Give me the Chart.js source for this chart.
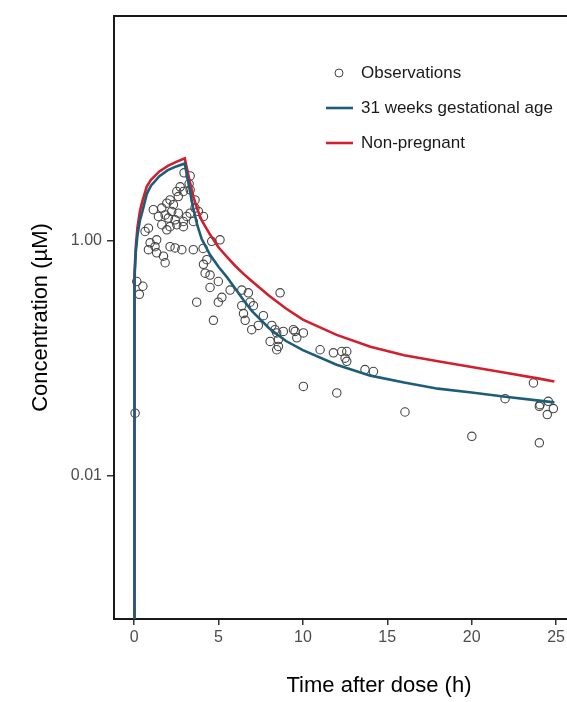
<!DOCTYPE html>
<html>
<head>
<meta charset="utf-8">
<script src="https://cdn.jsdelivr.net/npm/chart.js@4"></script>
<style>
  html, body { margin: 0; padding: 0; background: #fff; overflow: hidden; }
  #wrap { width: 660px; height: 702px; }
</style>
</head>
<body>
<div id="wrap"><canvas id="pkChart" width="660" height="702"></canvas></div>
<script>
// -------------------- Data --------------------
const curveTime = [0, 0.005, 0.02, 0.05, 0.1, 0.2, 0.35, 0.5, 0.75, 1, 1.5, 2, 2.5, 3,
  3.25, 3.5, 3.75, 4, 4.5, 5, 5.5, 6, 6.5, 7, 8, 9, 10, 12, 14, 16, 18, 20, 22, 24, 24.9];

// first value is the (effectively zero) pre-dose concentration, below the axis floor
const gest31Conc = [1e-6, 0.05, 0.2, 0.48, 0.8, 1.12, 1.5, 1.8, 2.5, 2.95, 3.55, 4.0, 4.3, 4.55,
  2.95, 1.9, 1.35, 1.04, 0.76, 0.6, 0.49, 0.39, 0.31, 0.25, 0.18, 0.14, 0.117, 0.088, 0.071,
  0.062, 0.055, 0.051, 0.047, 0.0435, 0.042];

const nonPregConc = [1e-6, 0.055, 0.22, 0.52, 0.88, 1.3, 1.8, 2.2, 2.9, 3.3, 3.9, 4.35, 4.7, 5.05,
  3.45, 2.4, 1.85, 1.5, 1.13, 0.88, 0.73, 0.61, 0.52, 0.45, 0.34, 0.265, 0.213, 0.158, 0.125,
  0.106, 0.094, 0.084, 0.075, 0.067, 0.0634];

const obsTime = [0.06, 0.16, 0.52, 0.31, 2.96, 3.32, 3.26, 3.32, 3.61, 2.53, 2.62, 2.13, 1.94,
  2.33, 1.64, 1.14, 2.23, 2.62, 1.84, 1.44, 2.03, 2.43, 2.92, 3.12, 3.32, 3.61, 4.11, 1.64,
  2.13, 2.53, 2.92, 1.94, 0.85, 0.65, 1.34, 0.95, 0.85, 1.24, 1.34, 1.74, 2.43, 2.83, 3.51,
  4.09, 2.92, 3.51, 3.81, 4.60, 5.09, 4.31, 4.11, 4.21, 4.50, 4.50, 4.99, 4.99, 5.20, 5.69,
  6.38, 6.77, 6.38, 6.48, 7.07, 6.58, 6.97, 6.87, 7.66, 8.65, 4.70, 7.36, 8.16, 8.35, 8.45,
  8.06, 8.55, 8.55, 8.45, 8.84, 9.54, 9.64, 3.71, 9.44, 10.03, 11.02, 11.81, 12.30, 12.60,
  12.50, 12.60, 13.68, 14.18, 10.03, 12.01, 16.05, 20.01, 21.98, 23.66, 24.01, 24.54, 24.84,
  24.48, 24.01, 24.05, 1.84, 2.13, 2.73];

const obsConc = [0.034, 0.45, 0.41, 0.35, 3.79, 3.57, 3.06, 2.72, 2.23, 2.63, 2.38, 2.23, 2.09,
  2.03, 1.90, 1.84, 1.78, 1.72, 1.66, 1.61, 1.56, 1.51, 1.46, 1.61, 1.72, 1.90, 1.61, 1.37,
  1.32, 1.37, 1.32, 1.24, 1.28, 1.20, 1.02, 0.96, 0.84, 0.89, 0.79, 0.74, 0.87, 0.84, 0.84,
  0.86, 2.63, 1.46, 1.78, 0.99, 1.02, 0.69, 0.63, 0.53, 0.51, 0.40, 0.45, 0.30, 0.33, 0.38,
  0.38, 0.36, 0.28, 0.24, 0.28, 0.21, 0.175, 0.30, 0.23, 0.36, 0.21, 0.19, 0.19, 0.175, 0.164,
  0.139, 0.144, 0.126, 0.118, 0.169, 0.169, 0.149, 0.30, 0.175, 0.164, 0.118, 0.111, 0.114, 0.114,
  0.100, 0.094, 0.080, 0.077, 0.0575, 0.0506, 0.0348, 0.0216, 0.0452, 0.0615, 0.0389, 0.0429, 0.0372,
  0.0331, 0.0190, 0.0402, 0.65, 0.89, 2.88];

const xTicks = [0, 5, 10, 15, 20, 25, 30];
const yTicks = [0.01, 1];

const FONT = '"Liberation Sans", Arial, sans-serif';
const BLUE = '#1c5d79';
const RED = '#d21f2e';

const toPoints = (xs, ys) => xs.map((x, i) => ({ x, y: ys[i] }));

// -------------------- Plugins --------------------
// top border of the panel (right side is cut off by the window)
const frameTop = {
  id: 'frameTop',
  afterDraw(chart) {
    const { ctx, chartArea } = chart;
    ctx.save();
    ctx.strokeStyle = '#1a1a1a';
    ctx.lineWidth = 2;
    ctx.beginPath();
    ctx.moveTo(chartArea.left - 1, chartArea.top);
    ctx.lineTo(chartArea.right, chartArea.top);
    ctx.stroke();
    ctx.restore();
  }
};

// legend drawn inside the panel, ggplot style
const insideLegend = {
  id: 'insideLegend',
  afterDraw(chart) {
    const { ctx, chartArea } = chart;
    const ds = chart.data.datasets;
    const rows = [ds[2], ds[0], ds[1]];
    const keyX = chartArea.left + 225;
    const textX = chartArea.left + 247;
    ctx.save();
    ctx.font = `17px ${FONT}`;
    ctx.textBaseline = 'middle';
    rows.forEach((d, i) => {
      const y = chartArea.top + 57 + i * 35;
      if (d.showLine) {
        ctx.strokeStyle = d.borderColor;
        ctx.lineWidth = d.borderWidth;
        ctx.beginPath();
        ctx.moveTo(keyX - 13, y);
        ctx.lineTo(keyX + 14, y);
        ctx.stroke();
      } else {
        ctx.strokeStyle = d.borderColor;
        ctx.lineWidth = 1;
        ctx.beginPath();
        ctx.arc(keyX, y, 4, 0, Math.PI * 2);
        ctx.stroke();
      }
      ctx.fillStyle = '#1a1a1a';
      ctx.fillText(d.label, textX, y);
    });
    ctx.restore();
  }
};

// -------------------- Chart --------------------
new Chart(document.getElementById('pkChart'), {
  type: 'scatter',
  data: {
    datasets: [
      {
        label: '31 weeks gestational age',
        data: toPoints(curveTime, gest31Conc),
        showLine: true,
        borderColor: BLUE,
        borderWidth: 2.6,
        pointRadius: 0,
        tension: 0
      },
      {
        label: 'Non-pregnant',
        data: toPoints(curveTime, nonPregConc),
        showLine: true,
        borderColor: RED,
        borderWidth: 2.6,
        pointRadius: 0,
        tension: 0
      },
      {
        label: 'Observations',
        data: toPoints(obsTime, obsConc),
        showLine: false,
        pointStyle: 'circle',
        pointRadius: 4.2,
        borderColor: '#444',
        borderWidth: 1.1,
        backgroundColor: 'rgba(0,0,0,0)'
      }
    ]
  },
  options: {
    responsive: false,
    animation: false,
    layout: { padding: { top: 16, right: 16, left: 0, bottom: 0 } },
    plugins: {
      legend: { display: false },
      tooltip: { enabled: false }
    },
    scales: {
      x: {
        type: 'linear',
        min: -1.19,
        max: 30.21,
        afterFit: s => { s.height = 83; },
        afterBuildTicks: s => { s.ticks = xTicks.map(v => ({ value: v })); },
        border: { display: true, color: '#1a1a1a', width: 2 },
        grid: { drawOnChartArea: false, drawTicks: true, tickLength: 6, color: '#333', lineWidth: 1.5 },
        ticks: { color: '#4d4d4d', padding: 3, font: { family: FONT, size: 16 }, maxRotation: 0 },
        title: {
          display: true,
          text: 'Time after dose (h)',
          color: '#000',
          font: { family: FONT, size: 22 },
          padding: { top: 0, bottom: 3 }
        }
      },
      y: {
        type: 'logarithmic',
        min: 0.000607,
        max: 82.2,
        afterFit: s => { s.width = 114; },
        afterBuildTicks: s => { s.ticks = yTicks.map(v => ({ value: v })); },
        border: { display: true, color: '#1a1a1a', width: 2 },
        grid: { drawOnChartArea: false, drawTicks: true, tickLength: 7, color: '#333', lineWidth: 1.5 },
        ticks: {
          color: '#4d4d4d',
          padding: 5,
          font: { family: FONT, size: 16 },
          callback: v => Number(v).toFixed(2)
        },
        title: {
          display: true,
          text: 'Concentration (µM)',
          color: '#000',
          font: { family: FONT, size: 22 },
          padding: { top: 28, bottom: 0 }
        }
      }
    }
  },
  plugins: [frameTop, insideLegend]
});
</script>
</body>
</html>
